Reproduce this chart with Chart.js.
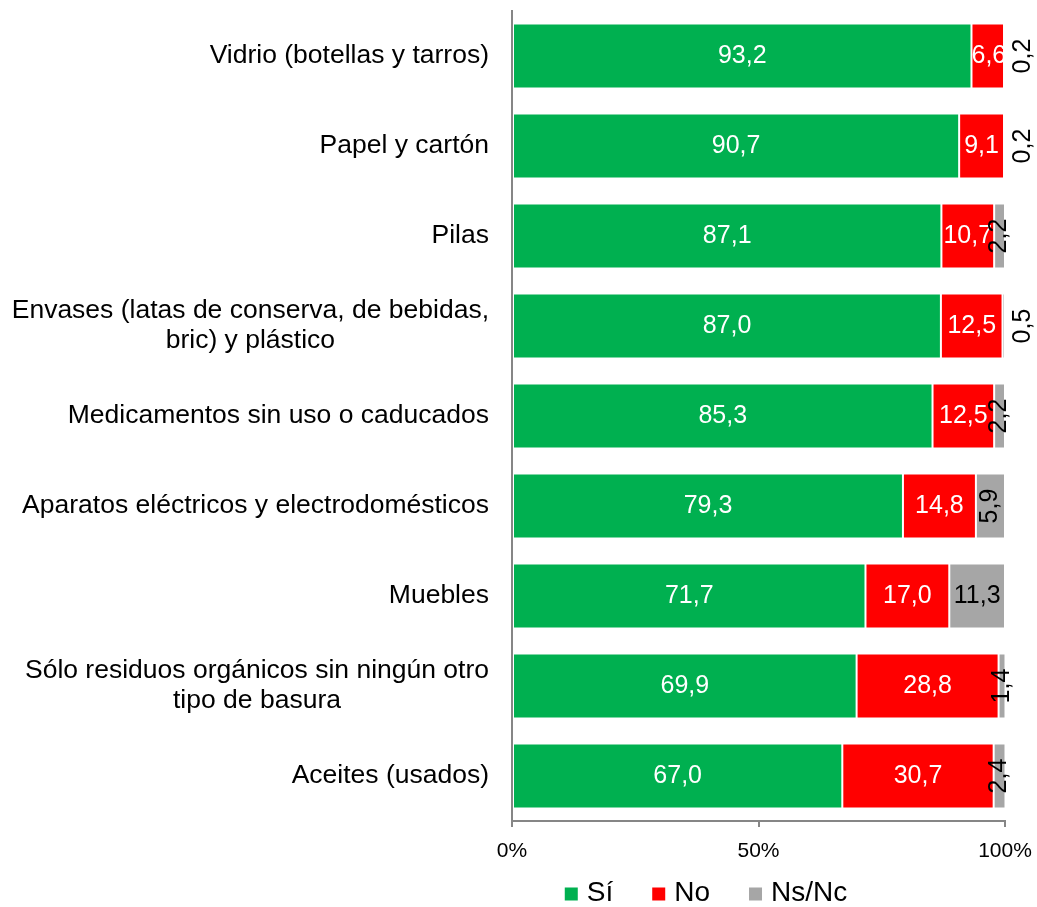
<!DOCTYPE html>
<html>
<head>
<meta charset="utf-8">
<script src="https://cdn.jsdelivr.net/npm/chart.js@4/dist/chart.umd.min.js"></script>
<style>
  html, body { margin: 0; background: #fff; }
  #wrap { width: 1037px; height: 907px; }
</style>
</head>
<body>
<div id="wrap"><canvas id="chart"></canvas></div>
<script>
const FONT = "'Liberation Sans', Arial, sans-serif";
const COLORES = { si: '#00b050', no: '#ff0000', nsnc: '#a6a6a6', eje: '#868686' };

// Categorías (una entrada por línea del rótulo)
const categorias = [
  ['Vidrio (botellas y tarros)'],
  ['Papel y cartón'],
  ['Pilas'],
  ['Envases (latas de conserva, de bebidas,', 'bric) y plástico'],
  ['Medicamentos sin uso o caducados'],
  ['Aparatos eléctricos y electrodomésticos'],
  ['Muebles'],
  ['Sólo residuos orgánicos sin ningún otro', 'tipo de basura'],
  ['Aceites (usados)']
];
const series = ['Sí', 'No', 'Ns/Nc'];
const si   = [93.2, 90.7, 87.1, 87.0, 85.3, 79.3, 71.7, 69.9, 67.0];
const no   = [6.6, 9.1, 10.7, 12.5, 12.5, 14.8, 17.0, 28.8, 30.7];
const nsnc = [0.2, 0.2, 2.2, 0.5, 2.2, 5.9, 11.3, 1.4, 2.4];
const ticksX = [0, 50, 100];

const fmt = v => v.toFixed(1).replace('.', ',');

// Etiquetas de datos dentro de las barras
Chart.register({
  id: 'etiquetas',
  afterDatasetsDraw(chart) {
    const { ctx, chartArea } = chart;
    ctx.save();
    ctx.font = `25px ${FONT}`;
    ctx.textBaseline = 'middle';
    chart.data.datasets.forEach((ds, di) => {
      chart.getDatasetMeta(di).data.forEach((el, i) => {
        const v = ds.data[i];
        const x0 = Math.min(el.x, el.base), x1 = Math.min(Math.max(el.x, el.base), chartArea.right);
        const txt = fmt(v);
        const w = ctx.measureText(txt).width;
        if (di < 2) {
          // texto blanco recortado al segmento
          ctx.save();
          ctx.beginPath();
          ctx.rect(x0, el.y - el.height / 2, x1 - x0, el.height);
          ctx.clip();
          ctx.fillStyle = '#fff';
          ctx.textAlign = 'center';
          const cx = Math.max((x0 + x1) / 2, x0 + w / 2);
          ctx.fillText(txt, cx, el.y);
          ctx.restore();
        } else {
          ctx.fillStyle = '#000';
          ctx.textAlign = 'center';
          if (v < 10) {
            const px = v < 1 ? chartArea.right + 18 : (x0 + x1) / 2;
            ctx.save();
            ctx.translate(px, el.y);
            ctx.rotate(-Math.PI / 2);
            ctx.fillText(txt, 0, 0);
            ctx.restore();
          } else {
            ctx.fillText(txt, (x0 + x1) / 2, el.y);
          }
        }
      });
    });
    ctx.restore();
  }
});

// Rótulos del eje Y: bloque alineado a la derecha, líneas centradas
Chart.register({
  id: 'rotulosY',
  afterDraw(chart) {
    const { ctx } = chart;
    const y = chart.scales.y;
    ctx.save();
    ctx.font = `26.5px ${FONT}`;
    ctx.fillStyle = '#000';
    ctx.textAlign = 'center';
    ctx.textBaseline = 'middle';
    categorias.forEach((lineas, i) => {
      const cy = y.getPixelForValue(i);
      const ancho = Math.max(...lineas.map(l => ctx.measureText(l).width));
      const cx = y.right - 23 - ancho / 2;
      lineas.forEach((l, j) => ctx.fillText(l, cx, cy + (j - (lineas.length - 1) / 2) * 30));
    });
    ctx.restore();
  }
});

// Leyenda inferior
Chart.register({
  id: 'leyenda',
  afterDraw(chart) {
    const { ctx } = chart;
    const box = 13, gap = 9, sep = 39, centro = 706, yL = 893;
    ctx.save();
    ctx.font = `28px ${FONT}`;
    ctx.textBaseline = 'middle';
    ctx.textAlign = 'left';
    const items = chart.data.datasets.map(ds => ({ t: ds.label, c: ds.backgroundColor, w: ctx.measureText(ds.label).width }));
    const total = items.reduce((s, it) => s + box + gap + it.w, 0) + sep * (items.length - 1);
    let x = centro - total / 2;
    items.forEach(it => {
      ctx.fillStyle = it.c;
      ctx.fillRect(x, yL - box / 2 + 1, box, box);
      ctx.fillStyle = '#000';
      ctx.fillText(it.t, x + box + gap, yL);
      x += box + gap + it.w + sep;
    });
    ctx.restore();
  }
});

const comun = { barPercentage: 0.72, categoryPercentage: 1, borderColor: '#fff', borderWidth: 1, borderSkipped: false };

new Chart(document.getElementById('chart'), {
  type: 'bar',
  data: {
    labels: categorias.map(c => c.join(' ')),
    datasets: [
      { label: series[0], data: si, backgroundColor: COLORES.si, ...comun },
      { label: series[1], data: no, backgroundColor: COLORES.no, ...comun },
      { label: series[2], data: nsnc, backgroundColor: COLORES.nsnc, ...comun }
    ]
  },
  options: {
    indexAxis: 'y',
    responsive: true,
    maintainAspectRatio: false,
    animation: false,
    layout: { padding: { top: 11, right: 32, left: 0, bottom: 46 } },
    plugins: { legend: { display: false }, tooltip: { enabled: false } },
    scales: {
      x: {
        stacked: true, min: 0, max: 100,
        afterBuildTicks: s => { s.ticks = ticksX.map(v => ({ value: v })); },
        ticks: { callback: v => v + '%', font: { family: FONT, size: 21 }, color: '#000', padding: 12, maxRotation: 0 },
        grid: { drawOnChartArea: false, drawTicks: true, tickLength: 6, color: COLORES.eje, lineWidth: 2 },
        border: { color: COLORES.eje, width: 2 },
        afterFit: s => { s.height = 40; s.paddingLeft = 0; s.paddingRight = 0; }
      },
      y: {
        stacked: true,
        ticks: { display: false },
        grid: { display: false },
        border: { color: COLORES.eje, width: 2 },
        afterFit: s => { s.width = 512; }
      }
    }
  }
});
</script>
</body>
</html>
